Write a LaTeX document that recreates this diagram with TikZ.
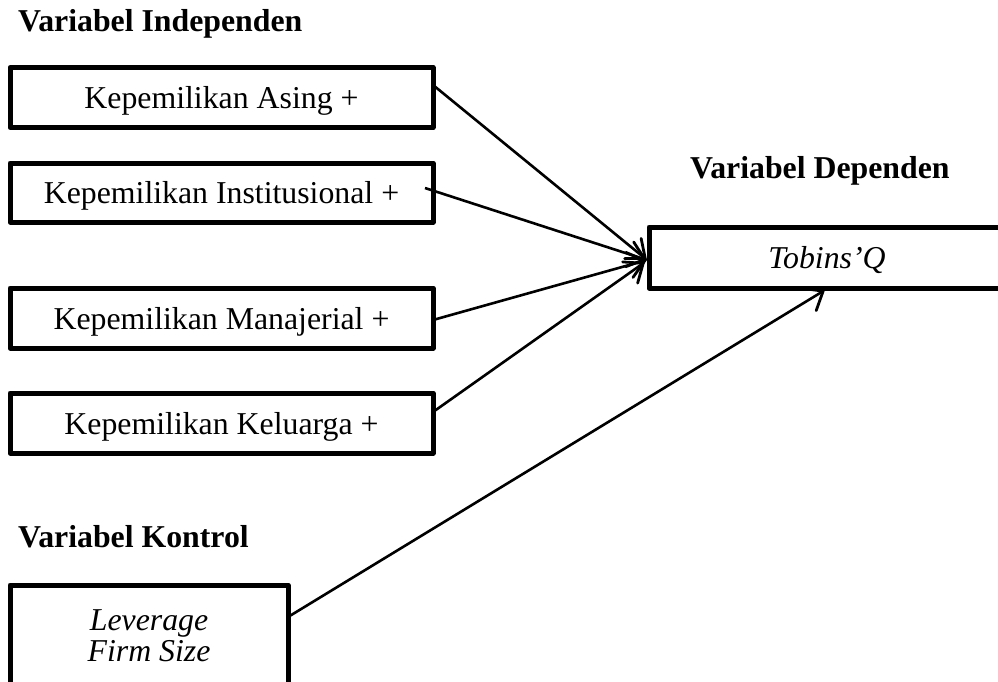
\documentclass[tikz,border=0pt]{standalone}
\usepackage{fontspec}
\setmainfont{Liberation Serif}
\usetikzlibrary{arrows.meta}
\begin{document}
\begin{tikzpicture}[x=1pt,y=-1pt,
  frame/.style={draw,line width=5pt,line join=round,inner sep=0pt,outer sep=0pt,font=\fontsize{31.8}{31}\selectfont},
  box/.style={frame,minimum width=423pt,minimum height=60pt,text height=22pt,text depth=0pt},
  head/.style={font=\fontsize{31.8}{36}\selectfont\bfseries,anchor=base west,inner sep=0pt},
  link/.style={line width=2.6pt,-{Straight Barb[length=16pt,width=26pt,line width=2.8pt,line cap=round]}}]
\path[use as bounding box,clip] (0,0) rectangle (998,682);
\node[head] (hi) at (18,32) {Variabel Independen};
\node[head] (hd) at (690,178) {Variabel Dependen};
\node[head] (hk) at (18,547) {Variabel Kontrol};
\node[box] (b1) at (221.5,97.5) {Kepemilikan Asing +};
\node[box,minimum height=59pt] (b2) at (221.5,192.5) {Kepemilikan Institusional +};
\node[box] (b3) at (221.5,318) {Kepemilikan Manajerial +};
\node[box] (b4) at (221.5,423) {Kepemilikan Keluarga +};
\node[box,minimum width=356pt,minimum height=61pt,font=\fontsize{31.8}{31}\selectfont\itshape] (tq) at (827,257.5) {Tobins'Q};
\node[frame,minimum width=278pt,minimum height=102pt,align=center,font=\fontsize{31.8}{31}\selectfont\itshape] (ctrl) at (149,636) {Leverage\\Firm Size};
\draw[link] ([yshift=12.5pt]b1.east) -- ([xshift=-2pt,yshift=-2.5pt]tq.west);
\draw[link] ([xshift=-8pt,yshift=4.5pt]b2.east) -- ([xshift=-2pt,yshift=-2.5pt]tq.west);
\draw[link] ([yshift=-2pt]b3.east) -- ([xshift=-2pt,yshift=-2.5pt]tq.west);
\draw[link] ([yshift=11pt]b4.east) -- ([xshift=-4pt,yshift=-4.5pt]tq.west);
\draw[link] ([yshift=19pt]ctrl.east) -- ([xshift=-2pt,yshift=-2pt]tq.south);
\end{tikzpicture}
\end{document}
